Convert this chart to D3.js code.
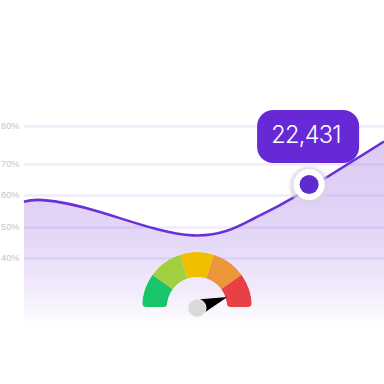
<!DOCTYPE html>
<html>
<head>
<meta charset="utf-8">
<script src="https://cdnjs.cloudflare.com/ajax/libs/d3/7.8.5/d3.min.js"></script>
<style>
html, body { margin: 0; padding: 0; background: #fff; }
svg { display: block; }
text { font-family: Inter, "Noto Sans", sans-serif; }
</style>
</head>
<body>
<div class="container"></div>
<script>
const WIDTH = 384;
const HEIGHT = 384;

// y ticks are not evenly spaced in the original, so the scale is piecewise
var tickValues = [40, 50, 60, 70, 80];
var tickPixels = [258, 227, 195, 164, 126];

var lineX = [0, 5.3, 21.1, 46.9, 63.6, 74.7, 100];
var lineY = [57.9, 58.4, 54.7, 47.3, 52.5, 59.1, 75.9];

var highlightX = 79.2;
var highlightY = 63.4;
var highlightLabel = "22,431";

var gaugeSegments = [1, 1, 1, 1, 1];
var gaugeColors = ["#18c568", "#a1d040", "#efbf00", "#ec963a", "#e74045"];
var needleValue = 0.9;

var xScale = d3.scaleLinear().domain([0, 100]).range([24, 384]);
var yScale = d3.scaleLinear().domain(tickValues).range(tickPixels);

var svg = d3.select('.container').append('svg')
    .attr('width', WIDTH)
    .attr('height', HEIGHT);

var defs = svg.append('defs');

var grad = defs.append('linearGradient')
    .attr('id', 'areaFill')
    .attr('gradientUnits', 'userSpaceOnUse')
    .attr('x1', 0).attr('x2', 0)
    .attr('y1', 140).attr('y2', 327);
grad.append('stop').attr('offset', '0%').attr('stop-color', '#dccbf4');
grad.append('stop').attr('offset', '50%').attr('stop-color', '#e3d6f6');
grad.append('stop').attr('offset', '80%').attr('stop-color', '#f2ebfb');
grad.append('stop').attr('offset', '100%').attr('stop-color', '#ffffff');

defs.append('filter').attr('id', 'halo')
    .attr('x', '-50%').attr('y', '-50%').attr('width', '200%').attr('height', '200%')
    .append('feGaussianBlur').attr('stdDeviation', 1.2);

var points = lineX.map(function (x, i) {
    return { x: x, y: lineY[i] };
});

var area = d3.area()
    .x(function (d) { return xScale(d.x); })
    .y0(327)
    .y1(function (d) { return yScale(d.y) + 1; })
    .curve(d3.curveNatural);

var line = d3.line()
    .x(function (d) { return xScale(d.x); })
    .y(function (d) { return yScale(d.y); })
    .curve(d3.curveNatural);

svg.append('path')
    .attr('d', area(points))
    .attr('fill', 'url(#areaFill)');

// grid and tick labels come from the axis
var yAxis = d3.axisLeft(yScale)
    .tickValues(tickValues)
    .tickSize(-360)
    .tickPadding(4.5)
    .tickFormat(function (d) { return d + '%'; });

var axisG = svg.append('g')
    .attr('transform', 'translate(24,0)')
    .call(yAxis);

axisG.select('.domain').remove();
axisG.selectAll('line')
    .attr('stroke', '#7b4fe0')
    .attr('stroke-opacity', 0.11)
    .attr('stroke-width', 2.5);
axisG.selectAll('text')
    .attr('fill', '#c4c4cb')
    .style('font-family', '"Liberation Sans", sans-serif')
    .style('font-size', '9.2px')
    .style('font-weight', 400);

svg.append('path')
    .attr('d', line(points))
    .attr('fill', 'none')
    .attr('stroke', '#6a2fd6')
    .attr('stroke-width', 2.6);

// tooltip
var px = xScale(highlightX);
var py = yScale(highlightY);

var tip = svg.append('g');
tip.append('rect')
    .attr('x', px - 52)
    .attr('y', py - 74.5)
    .attr('width', 102)
    .attr('height', 53)
    .attr('rx', 16)
    .attr('fill', '#6629d5');
tip.append('text')
    .attr('x', px - 3)
    .attr('y', py - 41)
    .attr('text-anchor', 'middle')
    .attr('fill', '#fff')
    .style('font-size', '23.5px')
    .style('font-weight', 300)
    .style('letter-spacing', '-0.7px')
    .text(highlightLabel);

svg.append('circle').attr('cx', px).attr('cy', py + 1.5).attr('r', 19.5).attr('fill', '#d8d2e4').attr('fill-opacity', 0.7).attr('filter', 'url(#halo)');
svg.append('circle').attr('cx', px).attr('cy', py).attr('r', 15.5).attr('fill', '#fff');
svg.append('circle').attr('cx', px).attr('cy', py).attr('r', 9.5).attr('fill', '#5f2bcf');

// gauge
var gaugeCx = 197;
var gaugeCy = 307;
var gauge = svg.append('g').attr('transform', 'translate(' + gaugeCx + ',' + gaugeCy + ')');

var pie = d3.pie().sort(null).startAngle(-Math.PI / 2).endAngle(Math.PI / 2);
var arc = d3.arc().innerRadius(30).outerRadius(55);

defs.append('clipPath').attr('id', 'gaugeClip')
    .append('path')
    .attr('d', d3.arc().innerRadius(30).outerRadius(55).cornerRadius(4)
        .startAngle(-Math.PI / 2).endAngle(Math.PI / 2)());

gauge.append('g')
    .attr('clip-path', 'url(#gaugeClip)')
    .selectAll('path')
    .data(pie(gaugeSegments))
    .enter().append('path')
    .attr('d', arc)
    .attr('fill', function (d, i) { return gaugeColors[i]; });

var needleScale = d3.scaleLinear().domain([0, 1]).range([-Math.PI, 0]);
var a = needleScale(needleValue);
var tipR = 32;
var baseR = 7;
gauge.append('path')
    .attr('d', d3.line()([
        [tipR * Math.cos(a), tipR * Math.sin(a)],
        [baseR * Math.cos(a - 1.57) + 5, baseR * Math.sin(a - 1.57) - 1],
        [baseR * Math.cos(a + 1.57) + 5, baseR * Math.sin(a + 1.57) - 1]
    ]) + 'Z')
    .attr('fill', '#000');

gauge.append('circle')
    .attr('cx', 0).attr('cy', 1).attr('r', 9)
    .attr('fill', '#d9d9d9')
    .attr('stroke', '#f1eef6')
    .attr('stroke-width', 1);
</script>
</body>
</html>
